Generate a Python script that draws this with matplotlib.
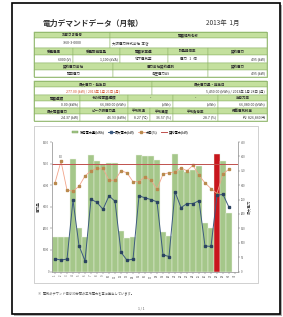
import matplotlib
matplotlib.use("agg")
import matplotlib.pyplot as plt
from matplotlib.patches import Rectangle
from matplotlib.lines import Line2D

plt.rcParams['font.family'] = ['Noto Sans CJK JP', 'DejaVu Sans']

# ---- chart data: January 2013, daily values (day 31 not recorded yet) ----
days = list(range(1, 31))
usage_kwh = [1580, 1580, 1580, 5220, 2030, 1610, 5420, 5100, 4990, 5050,
             5050, 1870, 1570, 1600, 5420, 5350, 5350, 5150, 1810, 1650,
             5450, 4680, 4600, 4680, 4910, 2230, 2030, 5450, 5100, 2730]
max_kw = [44, 40, 43, 248, 90, 37, 251, 240, 216, 263,
          244, 67, 39, 43, 263, 256, 250, 242, 58, 52,
          277, 222, 236, 236, 246, 89, 87, 265, 268, 223]
power_factor = [308, 383, 283, 279, 296, 332, 350, 358, 358, 317,
                317, 350, 343, 312, 312, 329, 317, 286, 338, 343,
                346, 360, 350, 369, 334, 308, 288, 271, 340, 355]
contract_kw = 375
peak_day = 28
n_days = 31

legend_labels = ["使用電力量(kWh)", "最大電力(kW)", "力率(%)", "契約電力(kW)"]

# ---- page texts ----
title = "電力デマンドデータ（月報）"
period = "2013年  1月"
footnote = "※  電気のデマンド値は30分間の平均電力を基に算出しています。"
page_no = "1 / 1"

t1_head1 = ["お客さま番号", "需要場所名称"]
t1_body1 = ["3-60-3-0000", "大阪電力株式会社  本店"]
t1_head2 = ["受電電圧", "受電設備容量", "需要家業種", "計量器倍率", "契約電力"]
t1_body2 = ["6000 (V)", "1,100 (kVA)", "地下電気室", "電力   1   倍", "495 (kW)"]
t1_head3 = ["契約電力会社", "電力会社契約種別", "契約電力"]
t1_body3 = ["関西電力", "高圧電力AS", "495 (kW)"]

t2_head1 = ["最大電力・発生日", "最大電力量・発生日"]
t2_body1 = ["277.00 (kW) / 2013年 1月 21日 (月)",
            "5,450.00 (kWh) / 2013年 1月 28日 (月)"]
t2_head2 = ["需要種類", "その他需要種類", "-", "-", "当月力率"]
t2_body2 = ["0.00 (kWh)", "66,080.00 (kWh)", "(kWh)", "(kWh)", "66,080.00 (kWh)"]
t2_head3 = ["最大需要電力", "ピーク時電力量", "平均気温", "平均湿度",
            "平均負荷率", "概算電気料金"]
t2_body3 = ["24.37 (kW)", "46.93 (kWh)", "8.27 (℃)", "36.57 (%)",
            "28.7 (%)", "約  826,860 円"]

W, H = 283, 317
fig = plt.figure(figsize=(W / 100, H / 100), dpi=100)
fig.patch.set_facecolor("white")

# page overlay in pixel coordinates
pg = fig.add_axes([0, 0, 1, 1], zorder=0)
pg.set_xlim(0, W)
pg.set_ylim(H, 0)
pg.axis("off")

pg.add_patch(Rectangle((14, 5), 268, 311, facecolor="#b0b0b0", edgecolor="none"))
pg.add_patch(Rectangle((12, 3), 268, 311, facecolor="white", edgecolor="black", lw=1.2))

pg.text(43, 23, title, fontsize=5.6, fontweight="bold", color="#333333", va="center")
pg.text(206, 23, period, fontsize=4.6, color="#333333", va="center")

GREEN = "#c4e09e"
GRID = "#8fb56a"


def table_row(y0, y1, edges, texts, head, align=None, color="#333333"):
    for i, txt in enumerate(texts):
        x0, x1 = edges[i], edges[i + 1]
        pg.add_patch(Rectangle((x0, y0), x1 - x0, y1 - y0,
                               facecolor=GREEN if head else "white",
                               edgecolor=GRID, lw=0.35))
        ha = "center" if align is None else align[i]
        xt = {"center": (x0 + x1) / 2, "left": x0 + 2, "right": x1 - 2}[ha]
        c = color[i] if isinstance(color, list) else color
        pg.text(xt, (y0 + y1) / 2, txt, fontsize=2.5, ha=ha, va="center",
                color=c, fontweight="bold" if head else "normal")


e2 = [34, 110, 267]
e5 = [34, 73, 120, 168, 208, 267]
e3 = [34, 113, 208, 267]
table_row(32, 38, e2, t1_head1, True)
table_row(38, 48, e2, t1_body1, False, ["center", "left"])
table_row(48, 55, e5, t1_head2, True)
table_row(55, 63, e5, t1_body2, False, ["right", "right", "center", "center", "right"])
table_row(63, 70, e3, t1_head3, True)
table_row(70, 77, e3, t1_body3, False, ["center", "center", "right"])
pg.add_patch(Rectangle((34, 32), 233, 45, fill=False, edgecolor=GRID, lw=0.6))

f2 = [34, 152, 267]
f5 = [34, 80, 128, 173, 218, 267]
f6 = [34, 80, 128, 150, 173, 218, 267]
table_row(81, 87, f2, t2_head1, True)
table_row(87, 95, f2, t2_body1, False, ["center", "right"], ["#d0502a", "#333333"])
table_row(95, 101, f5, t2_head2, True)
table_row(101, 108, f5, t2_body2, False, ["right"] * 5)
table_row(108, 114, f6, t2_head3, True)
table_row(114, 121, f6, t2_body3, False, ["right"] * 6)
pg.add_patch(Rectangle((34, 81), 233, 40, fill=False, edgecolor=GRID, lw=0.6))

# chart frame
pg.add_patch(Rectangle((34, 126), 224, 157, facecolor="white", edgecolor="#bdbdbd", lw=0.5))

pg.text(38, 293, footnote, fontsize=2.3, color="#555555", va="center")
pg.text(141, 308, page_no, fontsize=2.4, color="#555555", ha="center", va="center")

# ---- chart ----
ax = fig.add_axes([52 / W, 1 - 271.5 / H, (238 - 52) / W, (271.5 - 142) / H], zorder=2)
ax.patch.set_alpha(0)
bar_colors = ["#c8161d" if d == peak_day else "#a5c78a" for d in days]
ax.bar(days, usage_kwh, width=1.0, color=bar_colors, edgecolor="#eef4e6", lw=0.3)
ax.set_xlim(0.5, n_days + 0.5)
ax.set_ylim(0, 6000)
ax.set_yticks(range(0, 6001, 1000))
ax.set_xticks(range(1, n_days + 1))
ax.set_xticklabels([str(d) for d in range(1, n_days + 1)], rotation=90)
ax.tick_params(labelsize=2.0, length=1.2, width=0.3, pad=0.8, colors="#555555")
ax.set_ylabel("電力量", fontsize=2.6, labelpad=1.5, color="#444444")

ax2 = ax.twinx()
ax2.plot(days, power_factor, color="#f2a48a", lw=0.6, marker="s", ms=1.5,
         mfc="#b98a4e", mec="#b98a4e")
ax2.plot(days, max_kw, color="#3c5a80", lw=0.7, marker="s", ms=1.5,
         mfc="#2b4360", mec="#2b4360")
ax2.axhline(contract_kw, color="#c0504d", lw=0.7)
top = power_factor.index(max(power_factor))
ax2.text(days[top], power_factor[top] + 12, f"{power_factor[top]}", fontsize=1.8,
         ha="center", color="#777777")
ax2.set_ylim(0, 450)
ax2.set_yticks(range(0, 451, 50))
ax2.tick_params(labelsize=2.0, length=1.2, width=0.3, pad=0.8, colors="#555555")
ax2.set_ylabel("最大電力", fontsize=2.6, labelpad=1.5, color="#444444")

for a in (ax, ax2):
    a.spines["top"].set_visible(False)
    for s in ("left", "right", "bottom"):
        a.spines[s].set_color("#9a9a9a")
        a.spines[s].set_linewidth(0.4)

handles = [Rectangle((0, 0), 1, 1, facecolor="#a5c78a", edgecolor="#6f9a4f", lw=0.3),
           Line2D([], [], color="#3c5a80", lw=0.7, marker="s", ms=1.5),
           Line2D([], [], color="#f2a48a", lw=0.6, marker="s", ms=1.5, mfc="#b98a4e", mec="#b98a4e"),
           Line2D([], [], color="#c0504d", lw=0.7)]
fig.legend(handles, legend_labels, loc="center", bbox_to_anchor=(130 / W, 1 - 132 / H),
           ncol=4, frameon=False, fontsize=2.3, handlelength=2.0, handleheight=0.8,
           columnspacing=1.0, handletextpad=0.4)

fig.savefig("out.png", dpi=100)
